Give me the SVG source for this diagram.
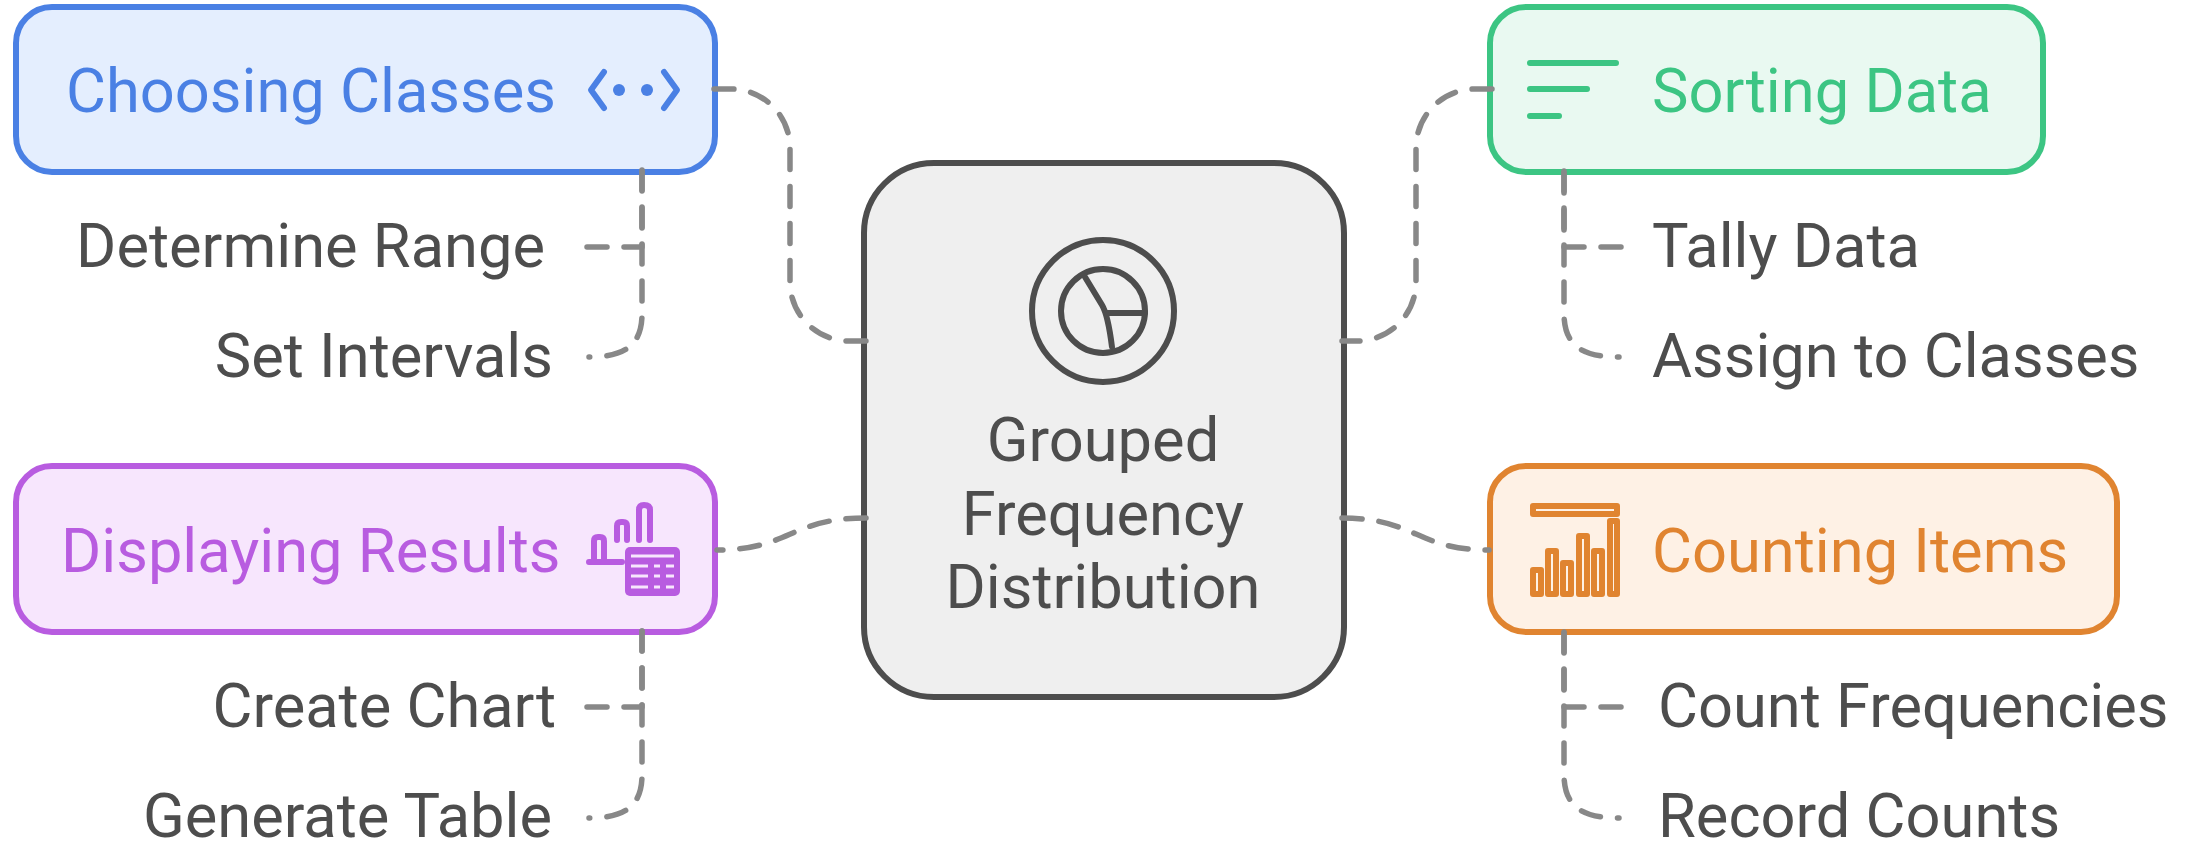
<svg xmlns="http://www.w3.org/2000/svg" width="2195" height="845" viewBox="0 0 2195 845">
<style>
text{font-family:Roboto,"Liberation Sans",sans-serif;font-size:61.4px}
.l{fill:#4d4d4d}
.c{fill:#4d4d4d;text-anchor:middle}
.box{stroke-width:6}
.cn{fill:none;stroke:#888;stroke-width:5.5;stroke-dasharray:20 17;stroke-linecap:round;stroke-linejoin:round}
.ic{fill:none;stroke-width:6;stroke-linecap:round;stroke-linejoin:round}
</style>
<rect width="2195" height="845" fill="#fff"/>
<g id="center">
<rect x="864" y="163" width="480" height="534" rx="70" fill="#efefef" stroke="#4d4d4d" stroke-width="6"/>
<g class="ic" stroke="#4d4d4d">
<circle cx="1103" cy="311" r="71"/>
<circle cx="1103" cy="311" r="42"/>
<path d="M1085 277L1102 305Q1108 315 1112 347M1106 313H1145"/>
</g>
<text class="c" x="1103" y="461">Grouped</text>
<text class="c" x="1103" y="535">Frequency</text>
<text class="c" x="1103" y="608">Distribution</text>
</g>
<g id="choosing">
<rect class="box" x="16" y="7" width="699" height="165" rx="36" fill="#e4eefe" stroke="#4a80e4"/>
<text x="66" y="112" fill="#4a80e4">Choosing Classes</text>
<path class="ic" stroke="#4a80e4" d="M604 72L591 90L604 108M664 72L677 90L664 108"/>
<circle cx="619" cy="90" r="6" fill="#4a80e4"/><circle cx="647" cy="90" r="6" fill="#4a80e4"/>
</g>
<g id="sorting">
<rect class="box" x="1490" y="7" width="553" height="165" rx="36" fill="#e9f9f1" stroke="#3cc583"/>
<text x="1652" y="112" fill="#3cc583">Sorting Data</text>
<path class="ic" stroke="#3cc583" d="M1530 63H1616M1530 89H1587M1530 116H1559"/>
</g>
<g id="displaying">
<rect class="box" x="16" y="466" width="699" height="166" rx="36" fill="#f7e6fd" stroke="#b85ce0"/>
<text x="61" y="572" fill="#b85ce0">Displaying Results</text>
<path class="ic" stroke="#b85ce0" d="M589 562H622M594 560V541Q594 537 598 537H600Q604 537 604 541V560M617 540V526Q617 522 621 522H623Q627 522 627 526V540M639 540V510Q639 505 644 505Q650 505 650 510V540"/>
<rect x="625" y="547" width="55" height="49" rx="5" fill="#b85ce0"/>
<path stroke="#f7e6fd" stroke-width="3" fill="none" d="M631 556H674M631 566H648M654 566H660M666 566H674M631 576H648M654 576H660M666 576H674M631 587H648M654 587H660M666 587H674"/>
</g>
<g id="counting">
<rect class="box" x="1490" y="466" width="627" height="166" rx="36" fill="#fef1e5" stroke="#e08430"/>
<text x="1652" y="572" fill="#e08430">Counting Items</text>
<g class="ic" stroke="#e08430">
<rect x="1533" y="506" width="84" height="8"/>
<rect x="1533" y="570" width="8" height="24"/>
<rect x="1548" y="551" width="8" height="43"/>
<rect x="1563" y="563" width="8" height="31"/>
<rect x="1579" y="536" width="8" height="58"/>
<rect x="1594" y="551" width="8" height="43"/>
<rect x="1610" y="521" width="7" height="73"/>
</g>
</g>
<g id="sub-determine"><text class="l" x="545" y="267" text-anchor="end">Determine Range</text></g>
<g id="sub-intervals"><text class="l" x="553" y="377" text-anchor="end">Set Intervals</text></g>
<g id="sub-chart"><text class="l" x="556" y="727" text-anchor="end">Create Chart</text></g>
<g id="sub-table"><text class="l" x="552" y="837" text-anchor="end">Generate Table</text></g>
<g id="sub-tally"><text class="l" x="1652" y="267">Tally Data</text></g>
<g id="sub-assign"><text class="l" x="1652" y="377">Assign to Classes</text></g>
<g id="sub-count"><text class="l" x="1658" y="727">Count Frequencies</text></g>
<g id="sub-record"><text class="l" x="1658" y="837">Record Counts</text></g>
<g id="connectors">
<path class="cn" d="M714 89H731A59 59 0 0 1 790 148V282A59 59 0 0 0 849 341H866"/>
<path class="cn" d="M866 518C790 518 790 550 717 550"/>
<path class="cn" d="M1492 89H1475A59 59 0 0 0 1416 148V282A59 59 0 0 1 1357 341H1342"/>
<path class="cn" d="M1342 518C1416 518 1416 550 1489 550"/>
<path class="cn" d="M587 247H642V170"/>
<path class="cn" d="M642 170V314C642 345 625 357 589 357"/>
<path class="cn" d="M587 707H642V631"/>
<path class="cn" d="M642 631V775C642 806 625 818 589 818"/>
<path class="cn" d="M1621 247H1564V170"/>
<path class="cn" d="M1564 171V313C1564 345 1581 357 1619 357"/>
<path class="cn" d="M1621 707H1564V631"/>
<path class="cn" d="M1564 632V774C1564 806 1581 818 1619 818"/>
</g>
</svg>
